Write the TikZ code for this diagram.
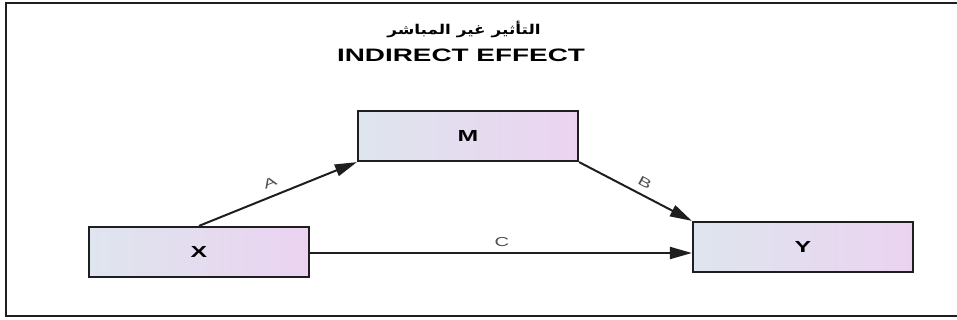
\documentclass[tikz,border=0pt]{standalone}
\usepackage{fontspec}
\usetikzlibrary{arrows.meta}
\setmainfont{Liberation Sans}
\newfontfamily\wsans[FakeStretch=1.55]{Liberation Sans}
\newfontfamily\arabicfont[Script=Arabic,FakeStretch=1.25]{DejaVu Sans}
\TeXXeTstate=1
\definecolor{boxleft}{HTML}{DEE5EE}
\definecolor{boxright}{HTML}{EBD3F0}
\definecolor{edgecol}{HTML}{1E1E1E}
\definecolor{labcol}{HTML}{505050}
\begin{document}
\begin{tikzpicture}[x=1pt,y=-1pt,
  varbox/.style={draw=edgecol,line width=2.2pt,left color=boxleft,right color=boxright,
    minimum width=220pt,minimum height=50pt,inner sep=0pt,
    font=\wsans\bfseries\fontsize{16}{16}\selectfont},
  conn/.style={draw=edgecol,line width=2pt,-{Triangle[length=22pt,width=12pt]}},
  lab/.style={text=labcol,font=\wsans\fontsize{13}{13}\selectfont,inner sep=0pt}]
\useasboundingbox (0,0) rectangle (957,320);
\draw[line width=2.8pt,edgecol] (957,3) -- (6,3) -- (6,316) -- (957,316);
\node[font=\arabicfont\bfseries\fontsize{13.5}{13.5}\selectfont] (ar) at (464,29) {\beginR التأثير غير المباشر\endR};
\node[font=\wsans\bfseries\fontsize{18}{18}\selectfont] (en) at (461,55) {INDIRECT EFFECT};
\node[varbox] (M) at (468,136) {M};
\node[varbox] (X) at (199,252) {X};
\node[varbox] (Y) at (803,247) {Y};
\draw[conn] (X.north) -- (M.south west);
\draw[conn] (M.south east) -- (Y.north west);
\draw[conn] (X.east |- 0,253) -- (Y.west |- 0,253);
\node[lab,rotate=22] (la) at (270,183) {A};
\node[lab,rotate=-28] (lb) at (645,183) {B};
\node[lab] (lc) at (502,242) {C};
\end{tikzpicture}
\end{document}
